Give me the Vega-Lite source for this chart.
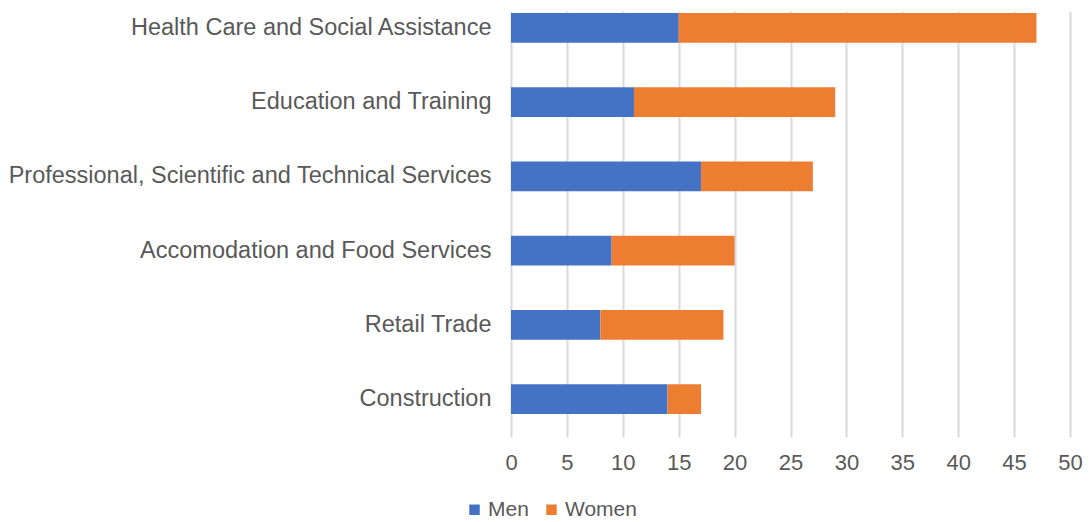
{
  "$schema": "https://vega.github.io/schema/vega-lite/v6.json",
  "width": 559,
  "height": 426,
  "autosize": {"type": "none"},
  "padding": {"left": 511, "top": 11, "right": 19, "bottom": 85},
  "background": "white",
  "config": {
    "view": {"stroke": null},
    "font": "Liberation Sans",
    "text": {"font": "Liberation Sans"}
  },
  "data": {
    "values": [
      {"industry": "Health Care and Social Assistance", "sex": "Men", "value": 15, "order": 1},
      {"industry": "Health Care and Social Assistance", "sex": "Women", "value": 32, "order": 2},
      {"industry": "Education and Training", "sex": "Men", "value": 11, "order": 1},
      {"industry": "Education and Training", "sex": "Women", "value": 18, "order": 2},
      {"industry": "Professional, Scientific and Technical Services", "sex": "Men", "value": 17, "order": 1},
      {"industry": "Professional, Scientific and Technical Services", "sex": "Women", "value": 10, "order": 2},
      {"industry": "Accomodation and Food Services", "sex": "Men", "value": 9, "order": 1},
      {"industry": "Accomodation and Food Services", "sex": "Women", "value": 11, "order": 2},
      {"industry": "Retail Trade", "sex": "Men", "value": 8, "order": 1},
      {"industry": "Retail Trade", "sex": "Women", "value": 11, "order": 2},
      {"industry": "Construction", "sex": "Men", "value": 14, "order": 1},
      {"industry": "Construction", "sex": "Women", "value": 3, "order": 2}
    ]
  },
  "mark": {"type": "bar"},
  "encoding": {
    "y": {
      "field": "industry",
      "type": "nominal",
      "sort": null,
      "scale": {"paddingInner": 0.6, "paddingOuter": 0.168, "align": 0.08},
      "axis": {
        "title": null,
        "domain": false,
        "ticks": false,
        "labelFontSize": 23.5,
        "labelColor": "#595959",
        "labelPadding": 20,
        "labelLimit": 600
      }
    },
    "x": {
      "field": "value",
      "type": "quantitative",
      "stack": "zero",
      "scale": {"domain": [0, 50], "nice": false},
      "axis": {
        "title": null,
        "values": [0, 5, 10, 15, 20, 25, 30, 35, 40, 45, 50],
        "domain": false,
        "ticks": false,
        "grid": true,
        "gridColor": "#d9d9d9",
        "gridWidth": 2,
        "labelFontSize": 22,
        "labelColor": "#595959",
        "labelPadding": 15,
        "labelFlush": false
      }
    },
    "color": {
      "field": "sex",
      "type": "nominal",
      "scale": {"domain": ["Men", "Women"], "range": ["#4472C4", "#ED7D31"]},
      "legend": {
        "title": null,
        "orient": "none",
        "direction": "horizontal",
        "legendX": -47,
        "legendY": 488,
        "symbolType": "square",
        "symbolSize": 110,
        "symbolStrokeWidth": 0,
        "labelFontSize": 21,
        "labelColor": "#595959",
        "labelOffset": 3,
        "columnPadding": 12
      }
    },
    "order": {"field": "order", "type": "quantitative"}
  }
}
